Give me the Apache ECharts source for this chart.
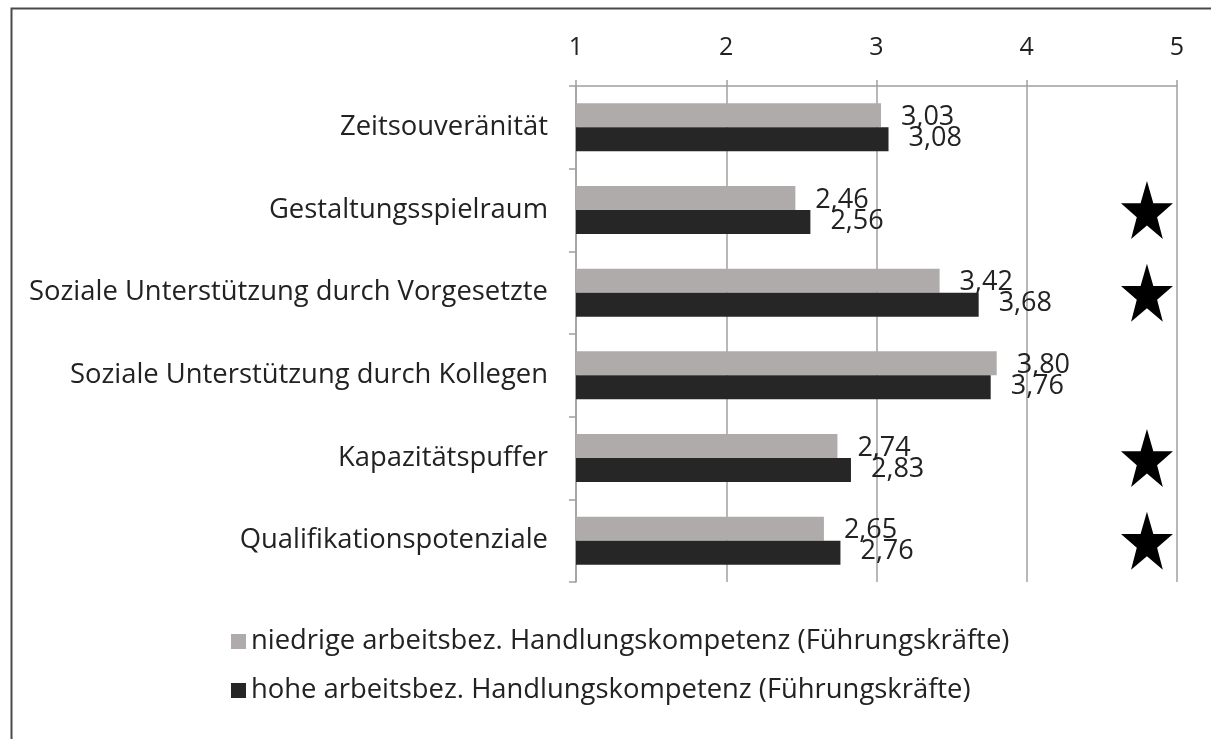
<!DOCTYPE html>
<html>
<head>
<meta charset="utf-8">
<script src="https://cdn.jsdelivr.net/npm/echarts@6/dist/echarts.min.js"></script>
<style>
  html, body { margin: 0; padding: 0; background: #fff; }
  #chart { width: 1211px; height: 739px; }
</style>
</head>
<body>
<div id="chart"></div>
<script>
const categories = [
  "Zeitsouveränität",
  "Gestaltungsspielraum",
  "Soziale Unterstützung durch Vorgesetzte",
  "Soziale Unterstützung durch Kollegen",
  "Kapazitätspuffer",
  "Qualifikationspotenziale"
];
const lowValues = [3.03, 2.46, 3.42, 3.80, 2.74, 2.65];
const highValues = [3.08, 2.56, 3.68, 3.76, 2.83, 2.76];
const significant = [false, true, true, false, true, true];
const xTicks = [1, 2, 3, 4, 5];
const seriesNames = [
  "niedrige arbeitsbez. Handlungskompetenz (Führungskräfte)",
  "hohe arbeitsbez. Handlungskompetenz (Führungskräfte)"
];
const starX = 4.8;

const font = "'Open Sans', sans-serif";
const starPath = "path://M50,0 L61.8,35.1 L98.1,35.1 L68.8,56.7 L79.4,91 L50,70 L20.6,91 L31.2,56.7 L1.9,35.1 L38.2,35.1 Z";
const fmt = (p) => p.value.toFixed(2).replace(".", ",");

const chart = echarts.init(document.getElementById("chart"));
chart.setOption({
  animation: false,
  textStyle: { fontFamily: font },
  graphic: [{
    type: "rect",
    left: 9, top: 6,
    shape: { width: 1250, height: 800 },
    style: { fill: "none", stroke: "#4a4a4a", lineWidth: 2 }
  }],
  legend: {
    data: seriesNames,
    orient: "vertical",
    left: 226, top: 623,
    itemWidth: 15, itemHeight: 15, itemGap: 22,
    icon: "rect",
    textStyle: { fontSize: 27.4, color: "#222", fontFamily: font }
  },
  grid: { left: 576, right: 34, top: 86, bottom: 157 },
  xAxis: {
    type: "value",
    position: "top",
    min: 1, max: 5, interval: 1,
    axisLine: { show: true, lineStyle: { color: "#a0a0a0", width: 1.5 } },
    axisTick: { show: true, length: 6, lineStyle: { color: "#a0a0a0", width: 1.5 } },
    splitLine: { show: true, lineStyle: { color: "#a0a0a0", width: 1.5 } },
    axisLabel: {
      fontSize: 25, color: "#222", margin: 26,
      formatter: (v) => xTicks.includes(v) ? String(v) : ""
    }
  },
  yAxis: {
    type: "category",
    inverse: true,
    data: categories,
    axisLine: { show: true, lineStyle: { color: "#a0a0a0", width: 1.5 } },
    axisTick: { show: true, length: 7, lineStyle: { color: "#a0a0a0", width: 1.5 } },
    axisLabel: { fontSize: 27.4, color: "#222", margin: 28 }
  },
  series: [
    {
      name: seriesNames[0],
      type: "bar",
      data: lowValues,
      barWidth: 24,
      barGap: "0%",
      itemStyle: { color: "#b0abab" },
      label: {
        show: true, position: "right", distance: 20, offset: [0, 2],
        fontSize: 27, color: "#222", formatter: fmt
      }
    },
    {
      name: seriesNames[1],
      type: "bar",
      data: highValues,
      barWidth: 24,
      itemStyle: { color: "#262626" },
      label: {
        show: true, position: "right", distance: 20, offset: [0, -1],
        fontSize: 27, color: "#222", formatter: fmt
      }
    },
    {
      name: "stars",
      type: "scatter",
      data: significant.map((s, i) => s ? [starX, i] : null).filter(d => d),
      symbol: starPath,
      symbolSize: [52, 58],
      itemStyle: { color: "#000", opacity: 1 },
      z: 5
    }
  ]
});
</script>
</body>
</html>
